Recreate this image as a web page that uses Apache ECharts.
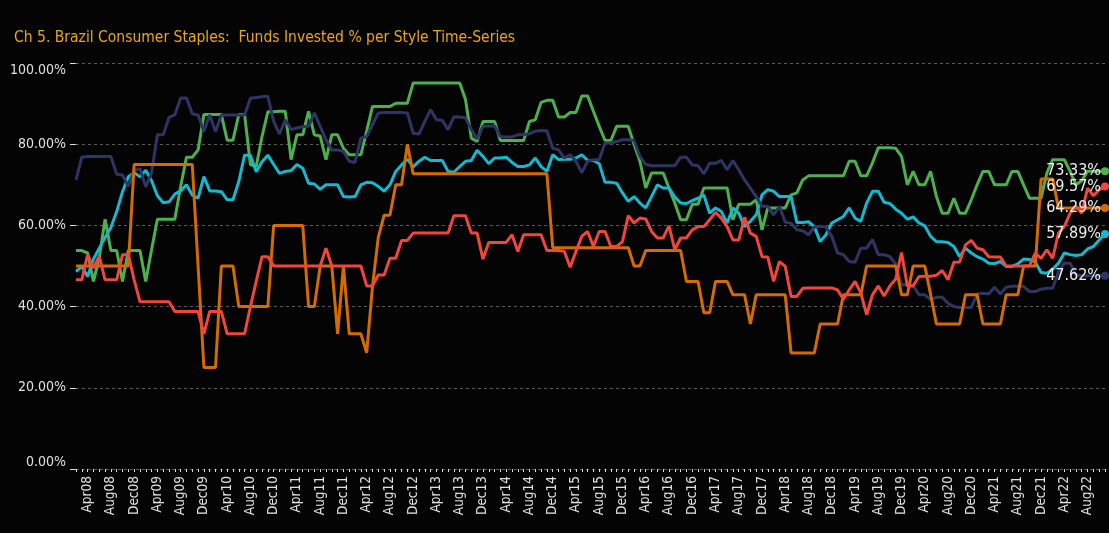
<!DOCTYPE html>
<html>
<head>
<meta charset="utf-8">
<script src="https://cdn.jsdelivr.net/npm/echarts@6/dist/echarts.min.js"></script>
<style>
  html, body { margin: 0; padding: 0; background: #040404; }
  #chart { width: 1109px; height: 533px; }
</style>
</head>
<body>
<div id="chart"></div>
<script>
// monthly categories, Feb08 .. Nov22
var monthNames = ['Jan','Feb','Mar','Apr','May','Jun','Jul','Aug','Sep','Oct','Nov','Dec'];
var categories = [];
for (var y = 2008; y <= 2022; y++) {
  for (var m = 0; m < 12; m++) {
    if (y === 2008 && m < 1) continue;
    if (y === 2022 && m > 10) continue;
    categories.push(monthNames[m] + String(y).slice(2));
  }
}

var yTicks = [0, 20, 40, 60, 80, 100];

var green = [53.8,53.8,53.2,46.2,52,61.5,53.8,53.8,46.2,53.8,53.8,53.8,46.2,54,61.5,61.5,61.5,61.5,69.6,76.8,
  76.8,78.6,87.3,87.3,87.3,87.3,81,81,87.3,87.3,75,74.5,81.9,88,88,88.1,88.1,76.2,82.3,82.3,
  88.1,82.3,82,76.2,82.3,82.3,79,77.4,77.4,77.4,83.2,89.3,89.3,89.3,89.3,90.1,90.1,90.1,95.1,95.1,
  95.1,95.1,95.1,95.1,95.1,95.1,95.1,91,81.5,80.7,85.6,85.6,85.6,80.9,80.9,80.9,80.9,80.9,85.6,86,
  90.3,90.8,90.8,86.7,86.7,87.8,87.8,91.9,91.9,88.1,84.4,80.9,80.9,84.4,84.4,84.4,79.9,75.8,69.2,72.9,
  72.9,72.9,69.2,65.5,61.4,61.4,65.2,65.2,69.2,69.2,69.2,69.2,69.2,61.4,65.2,65.2,65.2,66.3,58.9,64.3,
  64.3,64.3,64.3,67.5,68,71.2,72.2,72.2,72.2,72.2,72.2,72.2,72.2,75.8,75.8,72.2,72.2,75.4,79.1,79.1,
  79.1,79,77,70,73.3,70,70,73.3,67.1,63,63,66.7,63,63,66.3,70,73.3,73.3,70,70,
  70,73.3,73.3,70,66.7,66.7,66.7,72.9,76.2,76.2,76.2,73.3,70,71,73.33,73.33,73.33,73.33];

var cyan = [48.6,49.9,47.4,51.7,54.4,57,59.5,63.4,68.3,72,73,72,73.6,71,67.3,65.6,65.8,67.7,68.5,70,
  67.5,66.7,72,68.5,68.5,68.3,66.3,66.3,70.8,77.3,77.3,73.2,75.7,77.3,75,72.8,73.3,73.5,75,74.1,
  70.4,70.2,68.9,70,70,70,67.1,67,67.1,70,70.6,70.5,69.6,68.4,70,73.3,74.9,76.3,74.4,75.8,
  76.8,76,76,76,73.3,73.1,74.5,75.8,76,78.5,77,75.2,76.6,76.6,76.8,75.5,74.5,74.5,74.9,76.6,
  74.5,73.3,77.4,76.2,76.3,76.3,76.6,77.4,76,76,75.2,70.6,70.6,70.4,68,65.9,67.1,65.5,64.3,67.1,
  70,69.2,69.2,67,65.5,65.4,66.1,66.7,67.5,63,64.3,63.4,60.6,64.3,63,59.7,61,62.6,67.5,68.8,
  68.4,67.1,67.1,67.1,60.7,60.7,60.9,59.7,56,57.7,60.6,61.4,62.2,64.3,61.8,61,65.5,68.4,68.4,65.7,
  65.4,64,63,61.5,62.1,60.6,59.9,57.3,56,56,55.8,54.8,52.3,54.4,53.2,52.3,51.7,50.7,50.6,51.1,
  49.9,49.9,50.5,51.7,51.6,51,48.4,48.2,49.2,50.7,53.2,52.8,52.6,52.8,54.2,54.8,56.4,57.89];

var navy = [71.2,76.8,77,77,77,77,77,72.6,72.4,69.6,73.5,74,69.5,73,82.3,82.3,86.6,87.2,91.4,91.4,
  87.5,87.2,83.1,87.2,83.1,87.2,87.2,87.2,87.2,87.2,91.3,91.5,91.7,91.8,85.6,82.5,86,83.6,84,84.3,
  84.4,87.7,84.4,81.1,78.6,78.6,78.2,75.8,75.5,81.5,81.9,84.8,87.7,87.8,87.8,87.8,87.8,87.7,82.7,82.5,
  85.6,88.5,86,85.9,83.6,86.7,86.7,86.5,83.6,81.3,84.4,84.5,84.5,81.9,81.8,81.8,82.3,82.4,82.6,83.2,
  83.4,83.3,79,78.6,76.6,77.4,75.8,73,75.8,76.2,76.2,80.3,80.3,80.7,81.1,81.1,80.9,77,75,74.7,
  74.7,74.7,74.7,74.7,76.8,76.8,74.9,74.7,72.7,75.3,75.3,76,73.7,76,73.7,71.2,69.2,67.1,64.7,64.7,
  62.6,64.7,60.8,60.5,58.9,58.7,57.7,59.6,59.8,59.6,57.3,53.2,52.8,51.1,50.9,54.4,54.4,56.5,52.8,52.8,
  52.3,50.5,45.4,45.4,45.2,42.9,42.9,41.7,42.3,42.3,40.8,40,39.8,39.8,39.8,43.1,43.3,43.1,44.8,43.1,
  44.8,45,45,45,43.7,43.7,44.3,44.5,44.5,48.6,50.7,50.7,47.8,47.6,47.6,47.6,47.6,47.62];

var orange = [50,50,50,50,50,50,50,50,50,50,75,75,75,75,75,75,75,75,75,75,
  75,50,25,25,25,50,50,50,40,40,40,40,40,40,60,60,60,60,60,60,
  40,40,50,50,50,33.3,50,33.3,33.3,33.3,28.6,45,57.1,62.5,62.5,70,70,80,72.7,72.7,
  72.7,72.7,72.7,72.7,72.7,72.7,72.7,72.7,72.7,72.7,72.7,72.7,72.7,72.7,72.7,72.7,72.7,72.7,72.7,72.7,
  72.7,72.7,54.5,54.5,54.5,54.5,54.5,54.5,54.5,54.5,54.5,54.5,54.5,54.5,54.5,54.5,50,50,53.8,53.8,
  53.8,53.8,53.8,53.8,53.8,46.2,46.2,46.2,38.5,38.5,46.2,46.2,46.2,42.9,42.9,42.9,35.7,42.9,42.9,42.9,
  42.9,42.9,42.9,28.6,28.6,28.6,28.6,28.6,35.7,35.7,35.7,35.7,42.9,42.9,42.9,42.9,50,50,50,50,
  50,50,42.9,42.9,50,50,50,43,35.7,35.7,35.7,35.7,35.7,42.9,42.9,42.9,35.7,35.7,35.7,35.7,
  42.9,42.9,42.9,50,50,50,71.4,71.4,71.4,64.29,64.29,64.29,64.29,64.29,64.29,64.29,64.29,64.29];

var red = [46.6,46.6,52.8,49.5,52.4,46.6,46.6,46.6,52.8,52.8,46.6,41.2,41.2,41.2,41.2,41.2,41.2,38.8,38.8,38.8,
  38.8,38.8,33.3,38.8,38.8,38.8,33.3,33.3,33.3,33.3,40,46.2,52.3,52.3,50,50,50,50,50,50,
  50,50,50,54.4,50,50,50,50,50,50,45.1,45.1,47.8,47.8,51.9,51.9,56.3,56.3,58.1,58.1,
  58.1,58.1,58.1,58.1,58.1,62.4,62.4,62.4,58.1,58.1,51.7,55.8,55.8,55.8,55.8,57.7,53.6,57.7,57.7,57.7,
  57.7,53.8,53.8,53.8,53.6,49.7,53.6,57.3,58.5,54.8,58.5,58.5,54.8,54.8,56,62.4,60.6,61.8,61.6,58.5,
  56.9,56.9,59.9,54,56.9,56.9,58.9,59.7,59.7,61.4,63.2,61.8,59.7,56.4,56.4,62,58.1,57.3,52.3,52.2,
  46.2,51.1,49.9,42.5,42.5,44.5,44.6,44.6,44.6,44.6,44.6,44.1,41.8,44.1,46.2,43.3,38,42.9,45.1,42.6,
  45.1,46.8,53.3,45.1,45.1,47.4,47.5,47.5,47.7,48.9,46.6,50.9,51,55.2,56.3,54.4,54,52.3,52.2,52.2,
  50,50,50,50,50,53.2,51.9,54,51.9,58.1,59.7,63,64.7,63,69.2,67.3,68.8,69.57];

var font = "'Liberation Sans Narrow', 'DejaVu Sans Condensed', 'Liberation Sans', sans-serif";

function makeSeries(name, color, values) {
  var last = values.length - 1;
  return {
    name: name,
    type: 'line',
    symbol: 'none',
    showAllSymbol: true,
    lineStyle: { width: 3, color: color },
    itemStyle: { color: color },
    data: values.map(function (v, i) {
      if (i !== last) return v;
      return {
        value: v,
        symbol: 'circle',
        symbolSize: 8,
        label: {
          show: true,
          position: 'left',
          distance: 0,
          color: '#eeeeee',
          fontSize: 16,
          fontFamily: font,
          formatter: function (p) { return p.value.toFixed(2) + '%'; }
        }
      };
    })
  };
}

var chart = echarts.init(document.getElementById('chart'));
chart.setOption({
  backgroundColor: '#040404',
  animation: false,
  title: {
    text: 'Ch 5. Brazil Consumer Staples:  Funds Invested % per Style Time-Series',
    left: 9,
    top: 25,
    textStyle: { color: '#E8A713', fontSize: 15.5, fontWeight: 'normal', fontFamily: font }
  },
  grid: { left: 76, right: 4, top: 63, bottom: 64 },
  xAxis: {
    type: 'category',
    data: categories,
    boundaryGap: false,
    axisLine: { show: false },
    axisTick: { show: true, interval: 0, length: 3, lineStyle: { color: '#dddddd' } },
    axisLabel: {
      interval: function (i) { return i % 4 === 2; },
      rotate: 90,
      color: '#e0e0e0',
      fontSize: 13.5,
      fontFamily: font,
      margin: 7
    },
    splitLine: { show: false }
  },
  yAxis: {
    type: 'value',
    min: yTicks[0],
    max: yTicks[yTicks.length - 1],
    interval: 20,
    axisLine: { show: false },
    axisTick: { show: true, length: 6, lineStyle: { color: '#dddddd' } },
    axisLabel: {
      color: '#e0e0e0',
      fontSize: 14,
      fontFamily: font,
      margin: 10,
      verticalAlignMinLabel: 'bottom',
      verticalAlignMaxLabel: 'top',
      formatter: function (v) { return v.toFixed(2) + '%'; }
    },
    splitLine: { show: true, lineStyle: { color: '#5a5a5a', type: [3, 3], width: 1 } }
  },
  series: [
    makeSeries('Growth', '#4DB04F', green),
    makeSeries('GARP', '#15B9CF', cyan),
    makeSeries('Value', '#2F3563', navy),
    makeSeries('Yield', '#D46B00', orange),
    makeSeries('Aggressive Growth', '#F2453C', red)
  ]
});
</script>
</body>
</html>
